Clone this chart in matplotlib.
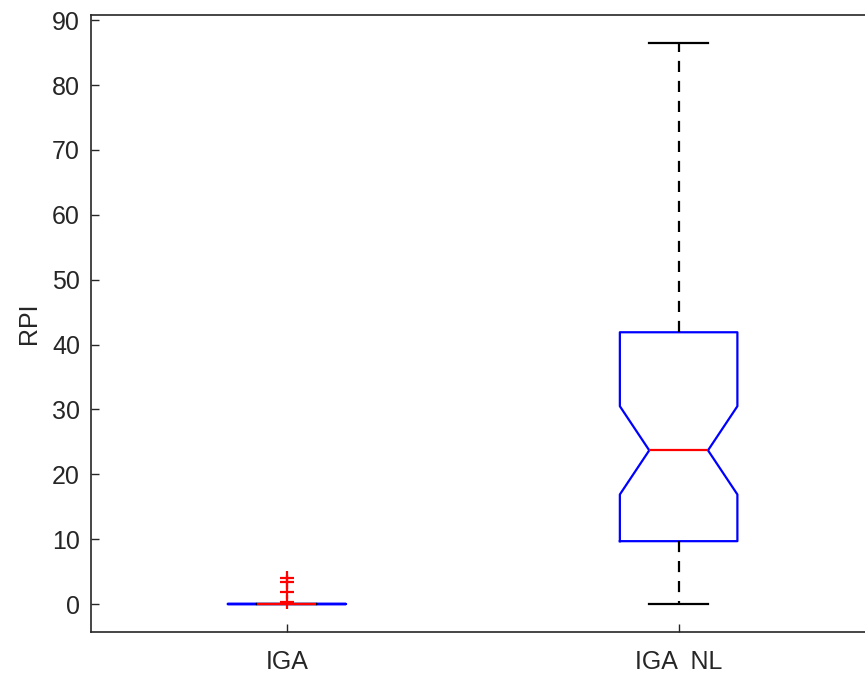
import matplotlib.pyplot as plt

# === DATA ===
groups = ["IGA", "IGA  NL"]
q1 = [0.0, 9.7]
med = [0.0, 23.7]
q3 = [0.0, 41.9]
whislo = [0.0, 0.0]
whishi = [0.0, 86.5]
cilo = [0.0, 16.9]
cihi = [0.0, 30.5]
fliers = [[0.25, 1.8, 3.35, 4.0], []]

plt.rcParams["font.family"] = ["Liberation Sans", "DejaVu Sans"]
dark = "#262626"

stats = []
for i, name in enumerate(groups):
    stats.append({
        "label": name, "q1": q1[i], "med": med[i], "q3": q3[i],
        "whislo": whislo[i], "whishi": whishi[i],
        "cilo": cilo[i], "cihi": cihi[i], "fliers": fliers[i],
    })

fig = plt.figure(figsize=(8.65, 6.77), dpi=100)
ax = fig.add_axes([91 / 865, 1 - 632 / 677, 783.5 / 865, 617 / 677])

ax.bxp(stats, positions=[1, 2], widths=0.3, capwidths=0.15, shownotches=True,
       boxprops=dict(color="blue", linewidth=1.6),
       medianprops=dict(color="red", linewidth=1.6),
       whiskerprops=dict(color="black", linewidth=1.6, linestyle=(0, (5, 4))),
       capprops=dict(color="black", linewidth=1.6),
       flierprops=dict(marker="+", markeredgecolor="red", markersize=10,
                       markeredgewidth=1.6, linestyle="none"))

ax.set_xlim(0.5, 2.5)
ax.set_ylim(-4.3, 90.8)
ax.set_yticks(range(0, 91, 10))
ax.set_ylabel("RPI", fontsize=18, color=dark, labelpad=8)

for s in ax.spines.values():
    s.set_color(dark)
    s.set_linewidth(1.2)
ax.tick_params(direction="in", length=6, width=1, colors=dark, labelsize=18,
               top=False, right=False)
ax.tick_params(axis="y", pad=8)
ax.tick_params(axis="x", pad=13)

fig.savefig("out.png", dpi=100)
